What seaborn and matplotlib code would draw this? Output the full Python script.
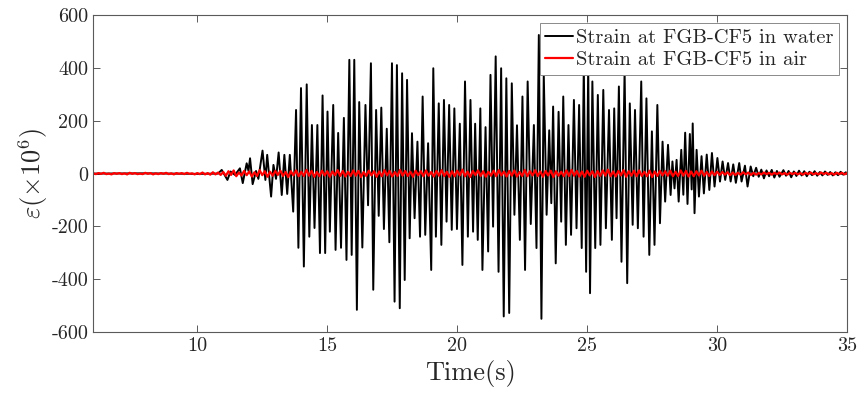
import numpy as np
import pandas as pd
import matplotlib
matplotlib.use("Agg")
import matplotlib.pyplot as plt
import seaborn as sns

# ---- data (peaks/troughs of the strain records) ----
water_time = [6.0, 8.0, 10.0, 10.8,
    10.94, 11.16, 11.28, 11.45, 11.64, 11.75, 11.90, 11.97, 12.03, 12.13, 12.26, 12.35, 12.51, 12.62,
    12.69, 12.84, 12.93, 13.03, 13.13, 13.25, 13.35, 13.46, 13.56, 13.69,
    13.80, 13.89, 13.99, 14.10, 14.21, 14.31, 14.41, 14.51, 14.62, 14.72, 14.82, 14.92, 15.01, 15.10,
    15.23, 15.32, 15.42, 15.53, 15.64, 15.74, 15.85, 15.94, 16.04, 16.14, 16.23, 16.35,
    16.47, 16.57, 16.68, 16.77, 16.88, 16.98, 17.08, 17.18, 17.29, 17.39, 17.49, 17.59, 17.68, 17.79,
    17.88, 17.98, 18.07, 18.17, 18.26, 18.36, 18.47, 18.57, 18.67, 18.77, 18.88, 19.00, 19.08, 19.18,
    19.29, 19.39, 19.49, 19.59,
    19.69, 19.79, 19.89, 19.99, 20.10, 20.20, 20.30, 20.41, 20.51, 20.61, 20.69, 20.79, 20.89, 20.97,
    21.09, 21.19, 21.28, 21.38, 21.48, 21.59, 21.69, 21.79, 21.89, 22.00, 22.10, 22.20, 22.30, 22.41,
    22.51, 22.61, 22.71,
    22.83, 22.95, 23.05, 23.14, 23.24, 23.33, 23.44, 23.54, 23.62, 23.69, 23.79, 23.90, 24.00, 24.08,
    24.18, 24.28, 24.38, 24.49, 24.59, 24.69, 24.79, 24.87, 24.96, 25.04, 25.11, 25.20, 25.31, 25.41,
    25.51, 25.62, 25.72,
    25.84, 25.95, 26.04, 26.13, 26.22, 26.32, 26.44, 26.54, 26.64, 26.75, 26.84, 26.95, 27.08, 27.17,
    27.28, 27.39, 27.49, 27.59, 27.70, 27.80, 27.90, 28.00, 28.11, 28.21, 28.28, 28.36, 28.44, 28.52,
    28.62, 28.70,
    28.77, 28.86, 28.95, 29.02, 29.06, 29.13, 29.21, 29.30, 29.40, 29.49, 29.60, 29.70, 29.80, 29.90,
    30.01, 30.11, 30.21, 30.31, 30.42, 30.52, 30.62, 30.72, 30.85, 30.94, 31.07, 31.17, 31.29, 31.39,
    31.50, 31.60, 31.70, 31.80, 31.90, 32.00, 32.10, 32.20, 32.30, 32.40, 32.55, 32.65, 32.75, 32.85,
    32.95, 33.05, 33.15, 33.25, 33.35, 33.45, 33.55, 33.65, 33.75, 33.85, 33.95, 34.05, 34.15, 34.25,
    34.35, 34.45, 34.55, 34.65, 34.75, 34.85, 34.95, 35.00]

water_strain = [0, 1, -1, 0,
    14, -24, 8, -5, 20, -36, 39, 10, 58, -40, 10, -20, 87, -24,
    71, -87, 33, -20, 80, -81, 71, -77, 71, -144,
    241, -281, 324, -352, 338, -239, 184, -206, 184, -301, 296, -301, 235, -220,
    260, -289, 154, -281, 211, -327, 431, -308, 431, -516, 271, -280,
    260, -120, 418, -440, 241, -160, 250, -210, 170, -260, 418, -485, 411, -510,
    380, -403, 355, -245, 153, -169, 121, -239, 292, -232, 115, -365, 399, -239,
    266, -270, 279, -182,
    260, -213, 247, -210, 189, -346, 349, -239, 279, -220, 189, -251, 247, -365,
    176, -295, 374, -201, 444, -372, 399, -541, 361, -528, 342, -156, 183, -251,
    292, -365, 349,
    -191, 184, -282, 525, -550, 374, -156, 164, -112, 254, -340, 234, -182, 292,
    -270, 184, -232, 279, -207, 260, -282, 406, -372, 406, -453, 349, -282, 298,
    -270, 317, -207,
    241, -251, 247, -169, 330, -334, 390, -415, 266, -194, 241, -207, 349, -239,
    285, -308, 160, -270, 260, -188, 121, -106, 109, -81, 46, -56, 52, -106,
    90, -80,
    155, -115, 150, -60, 190, -150, 90, -87, 66, -75, 72, -62, 78, -49,
    59, -30, 46, -24, 40, -30, 35, -35, 40, -30, 30, -49, 27, -10,
    22, -12, 15, -18, 12, -10, 14, -15, 10, -12, 13, -8, 10, -14,
    8, -9, 11, -7, 9, -10, 7, -6, 9, -8, 6, -7, 8, -5,
    6, -7, 5, -6, 7, -4, 5, 0]

air_time = np.round(np.arange(6.0, 35.0001, 0.1), 1)
air_strain = [
    1, -2, 2, -1, 3, -2, 0, -3, 2, -1, 2, -2, 1, -3, 3, -1, 2, -2, 0, -2,
    3, -1, 2, -3, 1, -2, 2, -1, 3, -2, 1, -3, 2, -1, 2, -2, 3, -1, 1, -3,
    2, -2, 4, -3, 2, -4, 5, -3, 4, -5,
    6, -8, 9, -5, 12, -10, 4, -7, 10, -6,
    8, -11, 5, -9, 13, -6, 9, -12, 7, -8,
    10, -5, 11, -9, 6, -13, 9, -7, 12, -10,
    7, -9, 14, -8, 10, -12, 6, -10, 11, -7,
    9, -12, 8, -6, 13, -9, 10, -11, 7, -9,
    12, -8, 10, -13, 6, -9, 11, -7, 9, -12,
    8, -10, 13, -7, 10, -11, 6, -9, 14, -8,
    10, -9, 7, -12, 11, -6, 9, -10, 12, -8,
    6, -11, 10, -8, 13, -9, 7, -12, 9, -10,
    11, -7, 15, -10, 8, -13, 10, -6, 12, -9,
    9, -12, 7, -8, 11, -10, 13, -7, 8, -11,
    10, -8, 12, -11, 6, -9, 14, -10, 9, -7,
    13, -9, 8, -12, 10, -7, 11, -13, 9, -8,
    7, -10, 12, -9, 14, -8, 10, -11, 8, -12,
    11, -7, 9, -13, 10, -9, 12, -8, 15, -10,
    8, -11, 10, -7, 13, -12, 9, -8, 11, -10,
    12, -9, 7, -10, 11, -13, 8, -9, 10, -7,
    9, -8, 11, -10, 7, -9, 12, -8, 10, -11,
    8, -10, 9, -7, 11, -8, 6, -9, 8, -6,
    7,
    -5, 6, -4, 5, -6, 4, -5, 3, -4, 5, -3, 4, -5, 3, -4, 2, -3, 4, -2, 3,
    -4, 3, -2, 4, -3, 2, -4, 3, -2, 3, -3, 2, -4, 3, -2, 4, -3, 2, -3, 4,
    -2, 3, -3, 2, -4, 3, -2, 3, -3, 2]

series_labels = ["Strain at FGB-CF5 in water", "Strain at FGB-CF5 in air"]
x_ticks = [10, 15, 20, 25, 30, 35]
y_ticks = [-600, -400, -200, 0, 200, 400, 600]
y_tick_labels = ["-600", "-400", "-200", "0", "200", "400", "600"]

# ---- style ----
sns.set_style("ticks")
axis_col = "#5a5a5a"
text_col = "#262626"
plt.rcParams.update({
    "font.family": ["cmr10", "DejaVu Serif"],
    "mathtext.fontset": "cm",
    "axes.unicode_minus": False,
    "axes.formatter.use_mathtext": False,
    "xtick.direction": "in",
    "ytick.direction": "in",
})

fig = plt.figure(figsize=(8.6, 4.0), dpi=100)
ax = fig.add_axes([0.1085, 0.17, 0.8765, 0.792])

water_df = pd.DataFrame({"t": water_time, "v": water_strain})
air_df = pd.DataFrame({"t": air_time, "v": air_strain})

sns.lineplot(data=water_df, x="t", y="v", color="black", linewidth=1.4,
             estimator=None, sort=False, label=series_labels[0], ax=ax)
sns.lineplot(data=air_df, x="t", y="v", color="#ff0000", linewidth=1.6,
             estimator=None, sort=False, label=series_labels[1], ax=ax)

ax.set_xlim(6, 35)
ax.set_ylim(-600, 600)
ax.set_xticks(x_ticks)
ax.set_xticklabels([str(v) for v in x_ticks])
ax.set_yticks(y_ticks)
ax.set_yticklabels(y_tick_labels)

ax.tick_params(axis="both", which="both", direction="in", length=5, width=0.7,
               color=axis_col, labelcolor=text_col, labelsize=14.5,
               top=True, right=True)
for s in ax.spines.values():
    s.set_visible(True)
    s.set_color(axis_col)
    s.set_linewidth(0.8)

ax.set_xlabel("Time(s)", fontsize=19, color=text_col, labelpad=4)
ax.set_ylabel(r"$\varepsilon(\times10^{6})$", fontsize=19, color=text_col, labelpad=1)

leg = ax.legend(loc="upper right", fontsize=14.8, frameon=True, fancybox=False,
                framealpha=1, edgecolor="#8a8a8a", borderaxespad=0.4,
                handlelength=1.35, handletextpad=0.15, borderpad=0.25,
                labelspacing=0.2)
leg.get_frame().set_linewidth(0.7)
for txt in leg.get_texts():
    txt.set_color(text_col)

fig.savefig("out.png", dpi=100)
